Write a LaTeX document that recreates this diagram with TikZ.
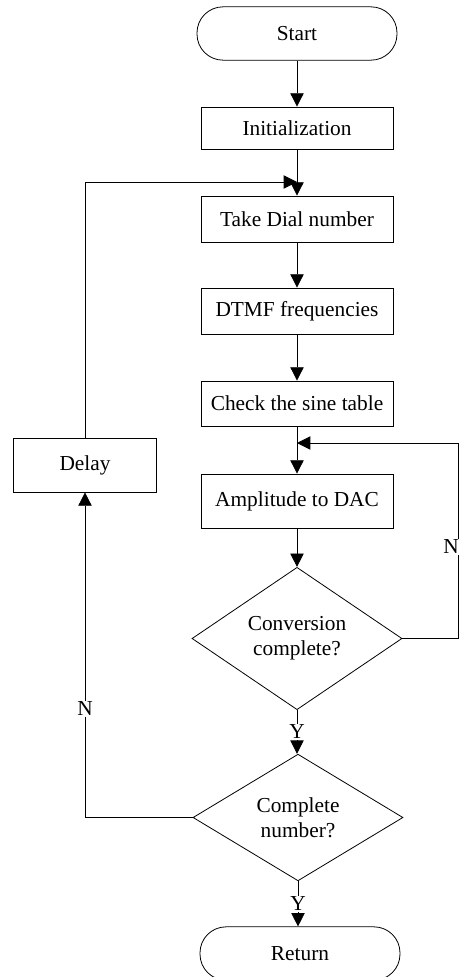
\documentclass[tikz,border=0pt]{standalone}
\usepackage{fontspec}
\setmainfont{Liberation Serif}
\usetikzlibrary{arrows.meta, shapes.geometric, positioning}

\tikzset{
    procbox/.style={draw, minimum width=144pt, minimum height=34.5pt, inner sep=2pt},
    termbox/.style={draw, rounded corners=19.5pt, minimum width=150pt, minimum height=40pt},
    decbox/.style={draw, diamond, minimum width=157.5pt, minimum height=95pt, inner sep=0pt, align=center},
    flowline/.style={-{Triangle[length=10pt,width=10pt]}},
    lbl/.style={fill=white, inner sep=1pt}
}

\begin{document}
\begin{tikzpicture}[x=0.75pt, y=-0.75pt, line width=0.6pt, font=\fontsize{16}{19}\selectfont]
\useasboundingbox (0,0) rectangle (460,977);

\node[termbox] (start) at (297,33.5) {Start};
\node[procbox, minimum height=31.5pt] (init) at (297,128) {Initialization};
\node[procbox] (dial) at (297,219) {Take Dial number};
\node[procbox] (dtmf) at (297,311) {DTMF frequencies};
\node[procbox, minimum height=33.75pt] (sine) at (297,403.5) {Check the sine table};
\node[procbox, minimum height=40.5pt] (dac) at (297,501) {Amplitude to DAC};
\node[decbox] (conv) at (297,638.5) {Conversion\\complete?};
\node[decbox] (full) at (298,817.5) {Complete\\number?};
\node[termbox] (ret) at (300,953.5) {Return};
\node[procbox, minimum width=107pt, minimum height=40.5pt] (delay) at (85,465) {Delay};

\coordinate (j1) at (297,182);
\coordinate (j2) at (297,443);

\draw[flowline] (start) -- (init);
\draw (init) -- (j1);
\draw[flowline] (j1) -- (dial);
\draw[flowline] (dial) -- (dtmf);
\draw[flowline] (dtmf) -- (sine);
\draw (sine) -- (j2);
\draw[flowline] (j2) -- (dac);
\draw[flowline] (dac) -- (conv);
\draw[flowline] (conv.south) -- node[lbl] {Y} (conv.south |- full.north);
\draw[flowline] (full.south) -- node[lbl] {Y} (full.south |- ret.north);

% loops back
\draw[flowline] (conv.east) -- ++(56,0) |- (j2);
\node[lbl] (nconv) at (451,547) {N};
\draw[flowline] (full.west) -| node[lbl, pos=0.667] {N} (delay.south);
\draw[flowline] (delay.north) |- (j1);
\end{tikzpicture}
\end{document}
